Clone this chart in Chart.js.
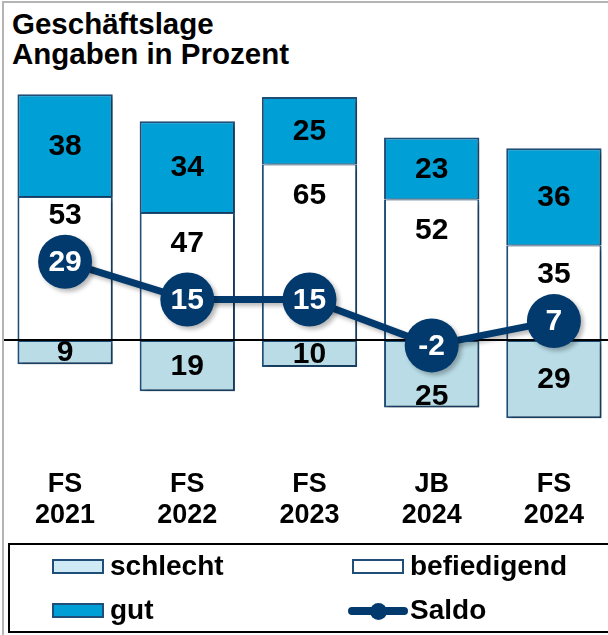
<!DOCTYPE html>
<html>
<head>
<meta charset="utf-8">
<script src="https://cdn.jsdelivr.net/npm/chart.js@4.4.1/dist/chart.umd.min.js"></script>
<style>
  body { margin:0; width:608px; height:635px; overflow:hidden; background:#fff; position:relative;
         font-family:"Liberation Sans", Arial, sans-serif; }
  /* thin grey frame of the original picture */
  #frame { position:absolute; left:2px; top:1px; width:640px; height:660px;
           border-left:2px solid #b4b4b4; border-top:2px solid #b4b4b4; }
  #title { position:absolute; left:12px; top:9px; font-weight:bold; font-size:29.5px; line-height:30px; color:#000; }
  #chartBox { position:absolute; left:0; top:0; }
  #legendBox { position:absolute; left:8px; top:543px; width:640px; height:86px; border:2px solid #000; }
  .item { position:absolute; font-weight:bold; font-size:28px; line-height:26px; color:#000; white-space:nowrap; }
  .swatch { position:absolute; width:52px; height:15px; box-sizing:border-box; border:2px solid #1f4e79; }
  .lineSw { position:absolute; width:60px; height:8px; border-radius:4px; }
  .dotSw { position:absolute; width:17px; height:17px; border-radius:50%; }
</style>
</head>
<body>
<div id="frame"></div>
<div id="title">Geschäftslage<br>Angaben in Prozent</div>
<div id="chartBox"><canvas id="myChart" width="615" height="545"></canvas></div>
<div id="legendBox"></div>
<div id="legend"></div>

<script>
// ---------- data ----------
const labels       = [['FS', '2021'], ['FS', '2022'], ['FS', '2023'], ['JB', '2024'], ['FS', '2024']];
const schlecht     = [-9, -19, -10, -25, -29];   // drawn below zero
const befriedigend = [53, 47, 65, 52, 35];
const gut          = [38, 34, 25, 23, 36];
const saldo        = [29, 15, 15, -2, 7];

const series_names = ['schlecht', 'befiedigend', 'gut', 'Saldo'];

// colours
const c_border   = '#1f4e79';
const c_gut      = '#009fd5';
const c_schlecht = '#b9dce6';
const c_befr     = '#ffffff';
const c_saldo    = '#023a6d';

const labelFont = 'bold 30px "Liberation Sans", Arial, sans-serif';

// ---------- plugin: zero line, value labels, soft shadows ----------
const decoPlugin = {
  id: 'deco',
  beforeDatasetDraw(chart, args) {
    const ctx = chart.ctx;
    const area = chart.chartArea;
    if (args.index === 0) {
      // zero line sits over the bars but under the saldo line
      const y0 = chart.scales.y.getPixelForValue(0);
      ctx.save();
      ctx.strokeStyle = '#000';
      ctx.lineWidth = 2;
      ctx.beginPath();
      ctx.moveTo(area.left, y0);
      ctx.lineTo(area.right, y0);
      ctx.stroke();
      ctx.restore();

      // numbers inside the bars
      const saldoMeta = chart.getDatasetMeta(0);
      ctx.save();
      ctx.font = labelFont;
      ctx.fillStyle = '#000';
      ctx.textAlign = 'center';
      ctx.textBaseline = 'middle';
      for (let d = 1; d <= 3; d++) {
        const meta = chart.getDatasetMeta(d);
        const values = chart.data.datasets[d].data;
        meta.data.forEach(function (bar, i) {
          const top = Math.min(bar.y, bar.base);
          const bottom = Math.max(bar.y, bar.base);
          const sy = saldoMeta.data[i].y;
          let y;
          if (d === 1) {        // schlecht: middle, pushed below the saldo circle
            y = Math.max((top + bottom) / 2, sy + 50);
          } else if (d === 2) { // befriedigend: near the top, kept above the circle
            y = Math.min(top + 30, sy - 47);
          } else {              // gut: middle
            y = (top + bottom) / 2;
          }
          ctx.fillText(String(Math.abs(values[i])), bar.x, y + 1);
        });
      }
      ctx.restore();
    }
    ctx.save();
    ctx.shadowColor = 'rgba(0,0,0,0.28)';
    ctx.shadowBlur = 4;
    ctx.shadowOffsetX = 3;
    ctx.shadowOffsetY = 3;
  },
  afterDatasetDraw(chart, args) {
    const ctx = chart.ctx;
    ctx.restore();
    if (args.index === 0) {
      // white numbers in the saldo circles
      const meta = chart.getDatasetMeta(0);
      ctx.save();
      ctx.font = labelFont;
      ctx.fillStyle = '#fff';
      ctx.textAlign = 'center';
      ctx.textBaseline = 'middle';
      meta.data.forEach(function (pt, i) {
        ctx.fillText(String(saldo[i]), pt.x, pt.y + 1);
      });
      ctx.restore();
    }
  }
};

// ---------- chart ----------
const ctx = document.getElementById('myChart').getContext('2d');
const myChart = new Chart(ctx, {
  type: 'bar',
  data: {
    labels: labels,
    datasets: [
      {
        type: 'line',
        label: series_names[3],
        data: saldo,
        order: 0,
        borderColor: c_saldo,
        borderWidth: 7,
        backgroundColor: c_saldo,
        pointRadius: 27,
        pointHoverRadius: 27,
        pointBackgroundColor: c_saldo,
        pointBorderWidth: 0,
        tension: 0
      },
      {
        label: series_names[0],
        data: schlecht,
        order: 1,
        backgroundColor: c_schlecht,
        borderColor: c_border,
        borderWidth: 2,
        borderSkipped: false
      },
      {
        label: series_names[1],
        data: befriedigend,
        order: 1,
        backgroundColor: c_befr,
        borderColor: c_border,
        borderWidth: { top: 1, left: 2, right: 2, bottom: 0 },
        borderSkipped: false
      },
      {
        label: series_names[2],
        data: gut,
        order: 1,
        backgroundColor: c_gut,
        borderColor: c_border,
        borderWidth: { top: 2, left: 2, right: 2, bottom: 1 },
        borderSkipped: false
      }
    ]
  },
  options: {
    responsive: false,
    animation: false,
    layout: { autoPadding: false, padding: { left: 4, right: 0, top: 70, bottom: 0 } },
    datasets: {
      bar: { categoryPercentage: 1, barPercentage: 0.78 }
    },
    scales: {
      x: {
        stacked: true,
        grid: { display: false, drawTicks: false },
        border: { display: false },
        ticks: {
          color: '#000',
          padding: 21,
          maxRotation: 0,
          autoSkip: false,
          font: { family: '"Liberation Sans", Arial, sans-serif', size: 27, weight: 'bold', lineHeight: 1.15 }
        },
        afterFit: function (scale) { scale.height = 97; }
      },
      y: {
        stacked: true,
        display: false,
        min: -40,
        max: 100
      }
    },
    plugins: {
      legend: { display: false },
      tooltip: { enabled: false },
      title: { display: false }
    }
  },
  plugins: [decoPlugin]
});

// ---------- legend (HTML, boxed like the original) ----------
const legend = document.getElementById('legend');
const legendItems = [
  { name: series_names[0], kind: 'box', fill: '#cdeaf5', x: 52,  y: 559 },
  { name: series_names[1], kind: 'box', fill: c_befr,    x: 352, y: 559 },
  { name: series_names[2], kind: 'box', fill: c_gut,     x: 52,  y: 603 },
  { name: series_names[3], kind: 'line', fill: c_saldo,  x: 348, y: 603 }
];
legendItems.forEach(function (it) {
  let textLeft = it.x + 58;
  if (it.kind === 'box') {
    const sw = document.createElement('div');
    sw.className = 'swatch';
    sw.style.left = it.x + 'px';
    sw.style.top = it.y + 'px';
    sw.style.background = it.fill;
    legend.appendChild(sw);
  } else {
    const ln = document.createElement('div');
    ln.className = 'lineSw';
    ln.style.left = it.x + 'px';
    ln.style.top = (it.y + 4) + 'px';
    ln.style.background = it.fill;
    legend.appendChild(ln);
    const dot = document.createElement('div');
    dot.className = 'dotSw';
    dot.style.left = (it.x + 22) + 'px';
    dot.style.top = it.y + 'px';
    dot.style.background = it.fill;
    legend.appendChild(dot);
    textLeft = it.x + 62;
  }
  const txt = document.createElement('div');
  txt.className = 'item';
  txt.textContent = it.name;
  txt.style.left = textLeft + 'px';
  txt.style.top = (it.y - 6) + 'px';
  legend.appendChild(txt);
});
</script>
</body>
</html>
